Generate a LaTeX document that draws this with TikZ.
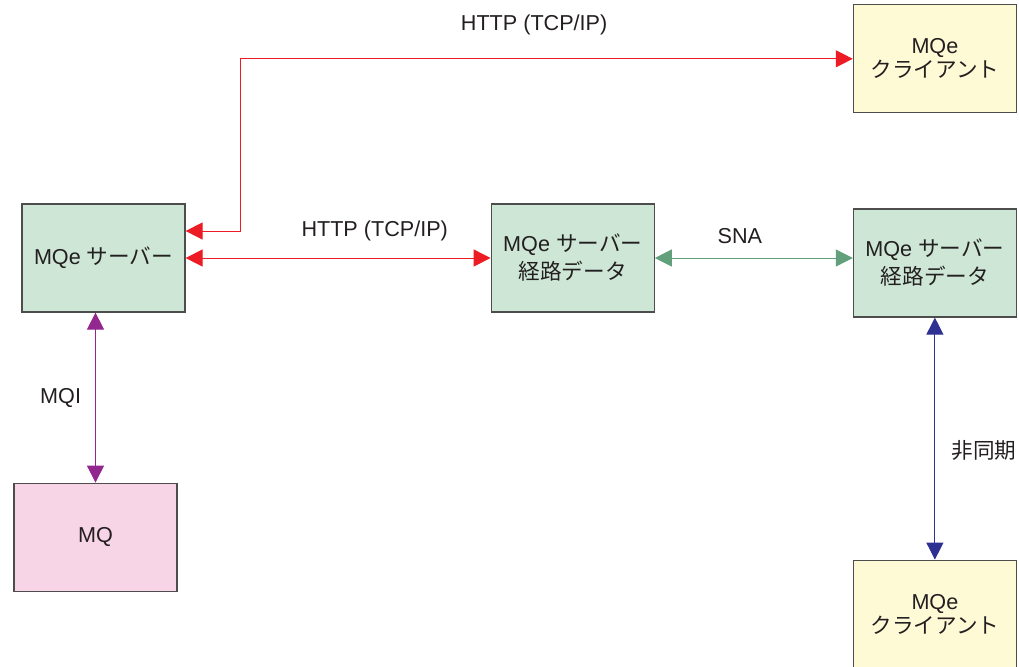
\documentclass[tikz,border=0pt]{standalone}
\usepackage{fontspec}
\setmainfont{Liberation Sans}
\newfontfamily\cjk{Noto Sans CJK JP}
\usepackage{tikz}
\usetikzlibrary{arrows.meta, calc, positioning}
\definecolor{srvfill}{HTML}{CDE6D5}
\definecolor{mqfill}{HTML}{F8D5E6}
\definecolor{clfill}{HTML}{FFFAD6}
\definecolor{boxline}{HTML}{4D4D4D}
\definecolor{httpred}{HTML}{ED1C24}
\definecolor{snagreen}{HTML}{62A07C}
\definecolor{mqipurple}{HTML}{92278F}
\definecolor{asyncblue}{HTML}{2E3192}
\definecolor{txt}{HTML}{231F20}

\begin{document}
\begin{tikzpicture}[x=0.5pt,y=-0.5pt,<->,>={Triangle[length=8.5pt,width=8.5pt]},line width=0.5pt,text=txt,font=\fontsize{10.8}{14}\selectfont]
	\tikzset{box/.style={draw=boxline, line width=0.6pt, minimum width=81.5pt, minimum height=54pt, align=center, inner sep=0pt},
		client/.style={box, fill=clfill, font=\fontsize{10.8}{12}\selectfont},
		lbl/.style={inner sep=0pt, text=txt}}
	\useasboundingbox (0,0) rectangle (1019,666);
	\node[box, fill=srvfill] (0) at (103.5,258) {MQe {\cjk サーバー}};
	\node[box, fill=srvfill] (1) [right=152.5pt of 0] {MQe {\cjk サーバー}\\{\cjk 経路データ}};
	\node[box, fill=srvfill, yshift=-2.5pt] (2) [right=99pt of 1] {MQe {\cjk サーバー}\\{\cjk 経路データ}};
	\node[client] (3) [above=47.5pt of 2] {MQe\\{\cjk クライアント}};
	\node[box, fill=mqfill, xshift=-4pt] (4) [below=85pt of 0] {MQ};
	\node[client] (5) [below=121pt of 2] {MQe\\{\cjk クライアント}};
	\coordinate (k) at (240,0);

	\draw[httpred] (3.west) -- node[lbl, pos=0.52, above=11.5pt] {HTTP (TCP/IP)} (3.west -| k) |- ($(0.east)+(0,-27)$);
	\draw[httpred] (0) -- node[lbl, pos=0.62, above=8.5pt] {HTTP (TCP/IP)} (1);
	\draw[snagreen] (1.east) -- node[lbl, pos=0.43, above=7pt] {SNA} (1.east -| 2.west);
	\draw[mqipurple] (0.south -| 4.north) -- node[lbl, left=7pt] {MQI} (4.north);
	\draw[asyncblue] (2.south) -- node[lbl, pos=0.55, right=8pt] {\cjk 非同期} (5.north);
\end{tikzpicture}
\end{document}
